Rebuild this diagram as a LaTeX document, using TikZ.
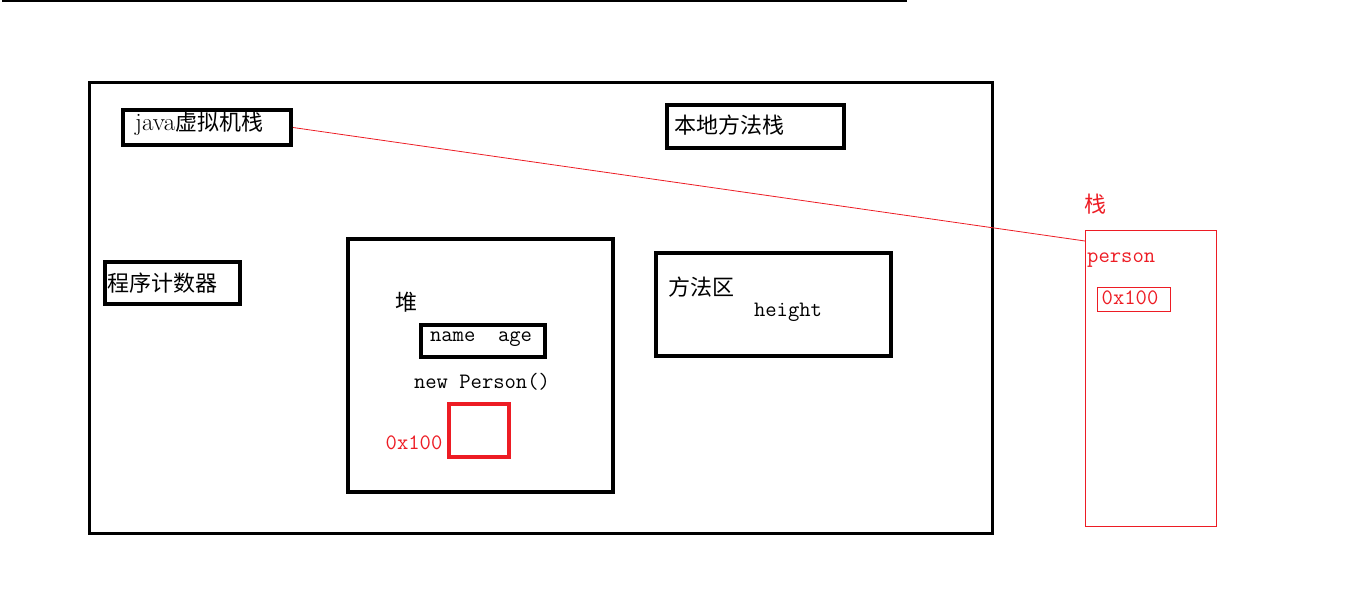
\documentclass[tikz,border=0pt]{standalone}
\usepackage{fontspec}
\usepackage{xcolor}
\usepackage{tikz}
\newfontfamily\cjk{Noto Sans CJK SC}
\definecolor{mred}{RGB}{237,28,36}
\newcommand\fsz[1]{\fontsize{#1}{26}\selectfont}

\begin{document}
\begin{tikzpicture}[x=1pt,y=-1pt,
    box/.style={draw,line width=4pt,inner sep=0pt},
    thinred/.style={draw=mred,line width=1pt,inner sep=0pt},
    lbl/.style={inner sep=0pt,font=\fsz{25}},
    tlbl/.style={inner sep=0pt,font=\ttfamily\fsz{22}},
    clbl/.style={inner sep=0pt,font=\cjk\fsz{22}}]
      \useasboundingbox (0,0) rectangle (1362,614);

      \coordinate (Topl) at (2,1);
      \coordinate (Topr) at (907,1);
      \coordinate (Pin) at (1085,241);

      \node[box,line width=3pt,minimum width=903pt,minimum height=451pt] (jvm) at (540.5,307.5) {};
      \node[box,minimum width=168pt,minimum height=35pt] (vmstack) at (207,127.5) {};
      \node[box,minimum width=177pt,minimum height=43pt] (native) at (755.5,126.5) {};
      \node[box,minimum width=135pt,minimum height=42pt] (pc) at (172.5,283) {};
      \node[box,minimum width=265pt,minimum height=253pt] (heap) at (480.5,365.5) {};
      \node[box,minimum width=124pt,minimum height=32pt] (fields) at (483,341) {};
      \node[box,draw=mred,minimum width=60pt,minimum height=53pt] (obj) at (479,430.5) {};
      \node[box,minimum width=235pt,minimum height=103pt] (method) at (773.5,304.5) {};
      \node[thinred,minimum width=131pt,minimum height=296pt] (stack) at (1150.5,378) {};
      \node[thinred,minimum width=73pt,minimum height=24pt] (ref) at (1133.5,299) {};

      \node[lbl,anchor=west] (vmstackl) at (135,124) {java{\cjk\fsz{22}虚拟机栈}};
      \node[clbl,anchor=west] (nativel) at (674,125) {本地方法栈};
      \node[clbl,anchor=west] (pcl) at (107,283) {程序计数器};
      \node[clbl] (heapl) at (406,302) {堆};
      \node[tlbl] (fieldsl) at (481,339) {name\ \ age};
      \node[tlbl] (newl) at (482,382) {new Person()};
      \node[tlbl,text=mred] (objl) at (414,443) {0x100};
      \node[clbl] (methodl) at (701,287) {方法区};
      \node[tlbl] (heightl) at (788,312) {height};
      \node[clbl,text=mred] (stackl) at (1095,204) {栈};
      \node[tlbl,text=mred,anchor=west] (personl) at (1087,260) {person};
      \node[tlbl,text=mred] (refl) at (1130,298) {0x100};

      \draw[line width=1.5pt] (Topl) -- (Topr);
      \draw[mred,line width=0.8pt] (vmstack.east) -- (Pin);
\end{tikzpicture}
\end{document}
